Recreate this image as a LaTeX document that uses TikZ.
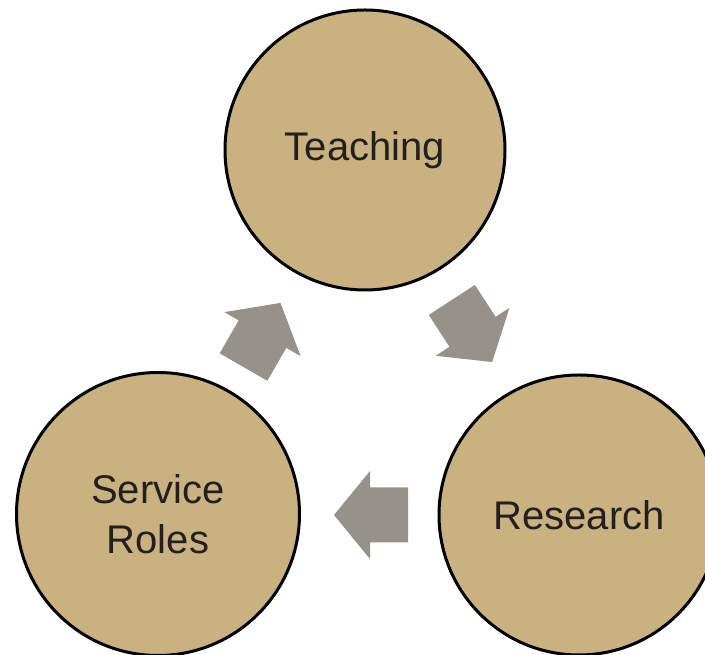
\documentclass[tikz,border=0pt]{standalone}
\usepackage{fontspec}
\setmainfont{Liberation Sans}
\definecolor{tan}{RGB}{201,178,128}
\definecolor{arrowgray}{RGB}{150,145,138}
\definecolor{txt}{RGB}{35,31,32}
\begin{document}
\begin{tikzpicture}[x=1pt,y=1pt,
  topic/.style={circle, draw=black, line width=3pt, fill=tan, minimum size=280pt, inner sep=0pt,
    text=txt, font=\fontsize{40}{50}\selectfont, align=center},
  blockarrow/.style={fill=arrowgray, draw=none}]
\clip (0,0) rectangle (705,655);
\fill[white] (0,0) rectangle (705,655);
\node[topic] (teach) at (365,505) {Teaching};
\node[topic] (res) at (579,140) {Research};
\node[topic, minimum size=283pt] (serv) at (158,141) {Service\\Roles};
% block arrows (tip along +x in local coordinates)
\begin{scope}[shift={(371,140)}, rotate=180]
  \fill[blockarrow] (-37,-27.5) -- (1,-27.5) -- (1,-44) -- (37,0) -- (1,44) -- (1,27.5) -- (-37,27.5) -- cycle;
\end{scope}
\begin{scope}[shift={(262,320)}, rotate=60]
  \fill[blockarrow] (-37,-27.5) -- (1,-27.5) -- (1,-44) -- (37,0) -- (1,44) -- (1,27.5) -- (-37,27.5) -- cycle;
\end{scope}
\begin{scope}[shift={(472,324)}, rotate=-57]
  \fill[blockarrow] (-37,-27.5) -- (1,-27.5) -- (1,-44) -- (37,0) -- (1,44) -- (1,27.5) -- (-37,27.5) -- cycle;
\end{scope}
\end{tikzpicture}
\end{document}
